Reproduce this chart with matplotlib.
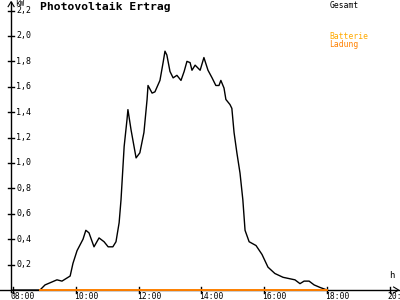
import numpy as np
import matplotlib.pyplot as plt

# PV output (kW) over the day, decimal hours
hours = [8.00, 8.86, 9.02, 9.40, 9.56, 9.82, 9.91, 10.04, 10.23, 10.32, 10.42, 10.58,
         10.74, 10.90, 11.03, 11.18, 11.28, 11.38, 11.44, 11.54, 11.63, 11.66, 11.76,
         11.92, 12.04, 12.17, 12.27, 12.30, 12.43, 12.52, 12.68, 12.78, 12.84, 12.90,
         13.00, 13.10, 13.22, 13.35, 13.45, 13.54, 13.64, 13.70, 13.80, 13.96, 14.08,
         14.21, 14.34, 14.46, 14.56, 14.62, 14.72, 14.78, 14.91, 14.97, 15.04, 15.13,
         15.23, 15.32, 15.39, 15.52, 15.74, 15.93, 16.12, 16.34, 16.60, 16.98, 17.14,
         17.27, 17.43, 17.59, 17.78, 18.00]
gesamt = [0.0, 0.0, 0.04, 0.08, 0.07, 0.11, 0.21, 0.31, 0.40, 0.47, 0.45, 0.34,
          0.41, 0.38, 0.34, 0.34, 0.38, 0.53, 0.71, 1.13, 1.34, 1.42, 1.26,
          1.04, 1.08, 1.24, 1.50, 1.61, 1.55, 1.56, 1.65, 1.79, 1.88, 1.85,
          1.72, 1.67, 1.69, 1.65, 1.72, 1.80, 1.79, 1.73, 1.77, 1.73, 1.83,
          1.73, 1.67, 1.61, 1.61, 1.65, 1.59, 1.50, 1.46, 1.43, 1.24, 1.08,
          0.92, 0.71, 0.47, 0.38, 0.35, 0.28, 0.18, 0.13, 0.10, 0.08, 0.05,
          0.07, 0.07, 0.04, 0.02, 0.0]
ladung_hours = [8.86, 18.0]
ladung = [0.0, 0.0]

y_ticks = [0.2, 0.4, 0.6, 0.8, 1.0, 1.2, 1.4, 1.6, 1.8, 2.0, 2.2]
x_ticks = [8, 10, 12, 14, 16, 18, 20]
x_labels = ["08:00", "10:00", "12:00", "14:00", "16:00", "18:00", "20:00"]

mono = "DejaVu Sans Mono"
orange = "#ff8000"
gold = "#ffaa00"

fig = plt.figure(figsize=(4, 3), dpi=100)
ax = fig.add_axes([0, 0, 1, 1])
ax.set_xlim(7.586, 20.325)
ax.set_ylim(-0.0787, 2.283)
ax.axis("off")

px = (20.325 - 7.586) / 400   # hours per pixel
py = (2.283 + 0.0787) / 300   # kW per pixel
x0 = 7.94

# axes with arrows
ax.plot([x0, x0], [-2 * py, 2.27], color="black", lw=1)
ax.plot([7.586, 20.28], [0, 0], color="black", lw=1)
ax.plot([x0 - 3 * px, x0, x0 + 3 * px], [2.27 - 5 * py, 2.27, 2.27 - 5 * py], color="black", lw=0.8)
ax.plot([20.28 - 5 * px, 20.28, 20.28 - 5 * px], [3 * py, 0, -3 * py], color="black", lw=0.8)

for v in y_ticks:
    ax.plot([x0 - 3 * px, x0 + 3 * px], [v, v], color="black", lw=1)
    ax.text(x0 + 5 * px, v, f"{v:.1f}".replace(".", ","), fontsize=6, family=mono,
            ha="left", va="center")
for t, lab in zip(x_ticks, x_labels):
    ax.plot([t, t], [-3 * py, 3 * py], color="black", lw=1)
    ax.text(t - 2 * px, -1.5 * py, lab, fontsize=5.8, family=mono, ha="left", va="top")

ax.text(x0 + 4 * px, 2.283 + 1 * py, "kW", fontsize=5.5, family=mono, ha="left", va="top")
ax.text(20.05, 10 * py, "h", fontsize=6.5, family=mono, ha="center", va="bottom")

ax.plot(hours, gesamt, color="black", lw=1)
ax.plot(ladung_hours, ladung, color=orange, lw=1.4)

ax.text(8.85, 2.283 - 2 * py, "Photovoltaik Ertrag", fontsize=8.2, family=mono,
        fontweight="bold", ha="left", va="top")
ax.text(18.08, 2.283 - 1 * py, "Gesamt", fontsize=5.8, family=mono, color="black", ha="left", va="top")
ax.text(18.08, 2.283 - 32 * py, "Batterie", fontsize=5.8, family=mono, color=gold, ha="left", va="top")
ax.text(18.08, 2.283 - 40 * py, "Ladung", fontsize=5.8, family=mono, color=orange, ha="left", va="top")

fig.savefig("out.png", dpi=100, facecolor="white")
